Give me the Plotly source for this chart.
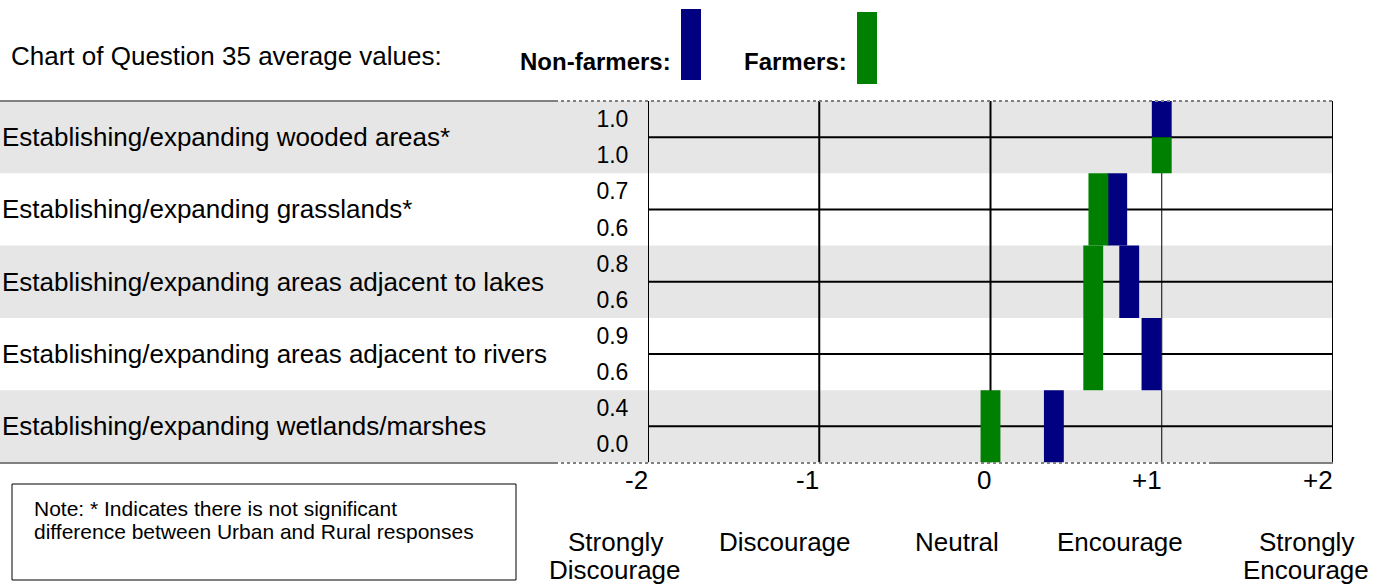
import plotly.graph_objects as go

# ---------------- data ----------------
categories = [
    "Establishing/expanding wooded areas*",
    "Establishing/expanding grasslands*",
    "Establishing/expanding areas adjacent to lakes",
    "Establishing/expanding areas adjacent to rivers",
    "Establishing/expanding wetlands/marshes",
]
non_farmers = [1.00, 0.74, 0.81, 0.94, 0.37]
farmers = [1.00, 0.63, 0.60, 0.60, 0.00]
x_ticks = [-2, -1, 0, 1, 2]
x_tick_labels = ["-2", "-1", "0", "+1", "+2"]
scale_labels = ["Strongly<br>Discourage", "Discourage", "Neutral", "Encourage", "Strongly<br>Encourage"]
title_text = "Chart of Question 35 average values:"
legend_names = ["Non-farmers:", "Farmers:"]
note_lines = [
    "Note: * Indicates there is not significant",
    "difference between Urban and Rural responses",
]

# ---------------- style ----------------
W, H = 1388, 584
FONT = "Liberation Sans, Arial, sans-serif"
NAVY = "#000080"
GREEN = "#008000"
BAND = "#e6e6e6"
BAR_W = 0.116
label_shift_px = [-33, -34, -34, -42, -27]


def px(x):
    return x / W


def py(y):
    return 1 - y / H


X_DOM = [px(648), px(1333)]
Y_DOM = [py(462.5), py(101)]
n = len(categories)

# bar geometry (row i spans [i, i+1] on a reversed y axis)
nf_base, nf_len, f_base, f_len = [], [], [], []
for i, (a, b) in enumerate(zip(non_farmers, farmers)):
    if round(a, 2) == round(b, 2):
        nf_base.append(i); nf_len.append(0.5)
        f_base.append(i + 0.5); f_len.append(0.5)
    else:
        nf_base.append(i); nf_len.append(1)
        f_base.append(i); f_len.append(1)

fig = go.Figure()
fig.add_trace(go.Bar(x=non_farmers, y=nf_len, base=nf_base, width=BAR_W,
                     marker=dict(color=NAVY, line=dict(width=0)), name="Non-farmers"))
fig.add_trace(go.Bar(x=farmers, y=f_len, base=f_base, width=BAR_W,
                     marker=dict(color=GREEN, line=dict(width=0)), name="Farmers"))

shapes = []
# alternating grey bands (full width incl. label column)
for i in range(n):
    if i % 2 == 0:
        shapes.append(dict(type="rect", xref="paper", yref="y", x0=0, x1=X_DOM[1],
                           y0=i, y1=i + 1, fillcolor=BAND, line=dict(width=0), layer="below"))
# horizontal mid-row lines
for i in range(n):
    shapes.append(dict(type="line", xref="x", yref="y", x0=x_ticks[0], x1=x_ticks[-1],
                       y0=i + 0.5, y1=i + 0.5, line=dict(color="black", width=2), layer="below"))
# vertical lines at ticks
for t in x_ticks:
    shapes.append(dict(type="line", xref="x", yref="y", x0=t, x1=t, y0=0, y1=n,
                       line=dict(color="black", width=1 if t == 1 else 2), layer="below"))
# top / bottom borders
shapes.append(dict(type="line", xref="paper", yref="paper", x0=0, x1=px(555),
                   y0=py(101), y1=py(101), line=dict(color="#808080", width=2)))
shapes.append(dict(type="line", xref="paper", yref="paper", x0=px(555), x1=X_DOM[1],
                   y0=py(101), y1=py(101), line=dict(color="#808080", width=2, dash="dot")))
shapes.append(dict(type="line", xref="paper", yref="paper", x0=0, x1=px(555),
                   y0=py(463), y1=py(463), line=dict(color="#808080", width=2)))
shapes.append(dict(type="line", xref="paper", yref="paper", x0=px(555), x1=px(1210),
                   y0=py(463), y1=py(463), line=dict(color="#808080", width=2, dash="dot")))
shapes.append(dict(type="line", xref="paper", yref="paper", x0=px(1210), x1=X_DOM[1],
                   y0=py(463), y1=py(463), line=dict(color="#808080", width=2)))
# legend swatches
shapes.append(dict(type="rect", xref="paper", yref="paper", x0=px(681), x1=px(701),
                   y0=py(80), y1=py(9), fillcolor=NAVY, line=dict(width=0)))
shapes.append(dict(type="rect", xref="paper", yref="paper", x0=px(857), x1=px(877),
                   y0=py(84), y1=py(12), fillcolor=GREEN, line=dict(width=0)))
# note box
shapes.append(dict(type="rect", xref="paper", yref="paper", x0=px(12), x1=px(516),
                   y0=py(580), y1=py(484), line=dict(color="black", width=1)))

ann = []
ann.append(dict(text=title_text, xref="paper", yref="paper", x=px(9), y=py(56),
                xanchor="left", yanchor="middle", showarrow=False,
                font=dict(size=26, color="black", family=FONT)))
ann.append(dict(text="<b>%s</b>" % legend_names[0], xref="paper", yref="paper", x=px(518), y=py(61),
                xanchor="left", yanchor="middle", showarrow=False,
                font=dict(size=24, color="black", family=FONT)))
ann.append(dict(text="<b>%s</b>" % legend_names[1], xref="paper", yref="paper", x=px(742), y=py(61),
                xanchor="left", yanchor="middle", showarrow=False,
                font=dict(size=24, color="black", family=FONT)))
for i, c in enumerate(categories):
    ann.append(dict(text=c, xref="paper", yref="y", x=px(0), y=i + 0.5,
                    xanchor="left", yanchor="middle", showarrow=False,
                    font=dict(size=26, color="black", family=FONT)))
for t, lab in zip(x_ticks, x_tick_labels):
    ann.append(dict(text=lab, xref="x", yref="paper", x=t, y=py(480), xshift=2,
                    xanchor="right", yanchor="middle", showarrow=False,
                    font=dict(size=26, color="black", family=FONT)))
for t, lab, sh in zip(x_ticks, scale_labels, label_shift_px):
    for k, line in enumerate(lab.split("<br>")):
        ann.append(dict(text=line, xref="x", yref="paper", x=t, y=py(542 + 28 * k), xshift=sh,
                        xanchor="center", yanchor="middle", showarrow=False,
                        font=dict(size=26, color="black", family=FONT)))
for k, line in enumerate(note_lines):
    ann.append(dict(text=line, xref="paper", yref="paper", x=px(32), y=py(508 + 23 * k),
                    xanchor="left", yanchor="middle", showarrow=False,
                    font=dict(size=21, color="black", family=FONT)))

# sub-row value labels on the y axis
tickvals, ticktext = [], []
for i, (a, b) in enumerate(zip(non_farmers, farmers)):
    tickvals += [i + 0.25, i + 0.75]
    ticktext += ["%.1f" % a, "%.1f" % b]

fig.update_layout(
    width=W, height=H,
    margin=dict(l=0, r=0, t=0, b=0),
    paper_bgcolor="white", plot_bgcolor="rgba(0,0,0,0)",
    showlegend=False, barmode="overlay",
    shapes=shapes, annotations=ann,
    font=dict(family=FONT, color="black"),
    xaxis=dict(domain=X_DOM, range=[x_ticks[0], x_ticks[-1]], showgrid=False, zeroline=False,
               showticklabels=False, ticks="", showline=False, fixedrange=True),
    yaxis=dict(domain=Y_DOM, range=[n, 0], showgrid=False, zeroline=False, showline=False,
               tickvals=tickvals, ticktext=ticktext, ticks="outside", ticklen=14,
               tickcolor="rgba(0,0,0,0)", tickfont=dict(size=23, color="black", family=FONT),
               fixedrange=True),
)

fig.write_html(
    "out.html",
    config={"displayModeBar": False},
    post_script="document.body.style.margin='0';document.body.style.overflow='hidden';",
)
